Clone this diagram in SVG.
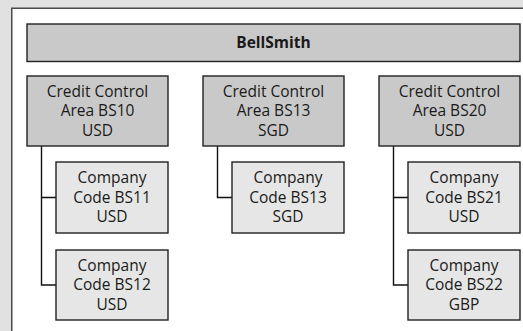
<svg xmlns="http://www.w3.org/2000/svg" width="523" height="331" viewBox="0 0 523 331">
<style>
.bg{fill:#e1e1e1}
.panel{fill:#ffffff;stroke:#4a4a4a;stroke-width:1.5}
.top{fill:#c9c9c9;stroke:#222;stroke-width:1.4}
.cca{fill:#c9c9c9;stroke:#222;stroke-width:1.4}
.cc{fill:#e6e6e6;stroke:#222;stroke-width:1.4}
text{font-family:"Open Sans","Noto Sans","DejaVu Sans",sans-serif;font-size:15.5px;fill:#1a1a1a;text-anchor:middle}
.b{font-weight:bold}
.conn{fill:none;stroke:#111;stroke-width:1.4}
</style>
<rect class="bg" x="0" y="0" width="523" height="331"/>
<rect class="panel" x="11.75" y="8.25" width="530" height="340"/>
<g id="bellsmith">
<rect class="top" x="27" y="24" width="493" height="37.5"/>
<text class="b" x="273.5" y="47.6">BellSmith</text>
</g>
<g id="connectors">
<path class="conn" d="M41.5 146V285H56M41.5 197.5H56"/>
<path class="conn" d="M217.5 146V197.5H232"/>
<path class="conn" d="M393.5 146V285H408M393.5 197.5H408"/>
</g>
<g id="cca-bs10">
<rect class="cca" x="27" y="76" width="141" height="70"/>
<text x="97.5" y="96.8">Credit Control</text>
<text x="97.5" y="116.3">Area BS10</text>
<text x="97.5" y="135.8">USD</text>
</g>
<g id="cca-bs13">
<rect class="cca" x="203" y="76" width="141" height="70"/>
<text x="273.5" y="96.8">Credit Control</text>
<text x="273.5" y="116.3">Area BS13</text>
<text x="273.5" y="135.8">SGD</text>
</g>
<g id="cca-bs20">
<rect class="cca" x="379" y="76" width="141" height="70"/>
<text x="449.5" y="96.8">Credit Control</text>
<text x="449.5" y="116.3">Area BS20</text>
<text x="449.5" y="135.8">USD</text>
</g>
<g id="cc-bs11">
<rect class="cc" x="56" y="162" width="112" height="71"/>
<text x="112" y="183">Company</text>
<text x="112" y="202.5">Code BS11</text>
<text x="112" y="222">USD</text>
</g>
<g id="cc-bs12">
<rect class="cc" x="56" y="250" width="112" height="70"/>
<text x="112" y="270.5">Company</text>
<text x="112" y="290">Code BS12</text>
<text x="112" y="309.5">USD</text>
</g>
<g id="cc-bs13">
<rect class="cc" x="232" y="162" width="112" height="71"/>
<text x="288" y="183">Company</text>
<text x="288" y="202.5">Code BS13</text>
<text x="288" y="222">SGD</text>
</g>
<g id="cc-bs21">
<rect class="cc" x="408" y="162" width="112" height="71"/>
<text x="464" y="183">Company</text>
<text x="464" y="202.5">Code BS21</text>
<text x="464" y="222">USD</text>
</g>
<g id="cc-bs22">
<rect class="cc" x="408" y="250" width="112" height="70"/>
<text x="464" y="270.5">Company</text>
<text x="464" y="290">Code BS22</text>
<text x="464" y="309.5">GBP</text>
</g>
</svg>
